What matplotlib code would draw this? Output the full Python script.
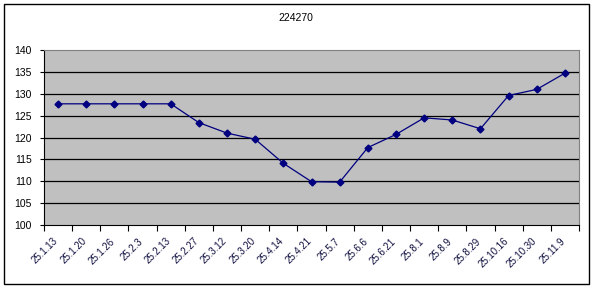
import matplotlib
matplotlib.use("Agg")
import matplotlib.pyplot as plt
from matplotlib.patches import Rectangle
from matplotlib.transforms import ScaledTranslation

title = "224270"
dates = ["25.1.13", "25.1.20", "25.1.26", "25.2.3", "25.2.13", "25.2.27",
         "25.3.12", "25.3.20", "25.4.14", "25.4.21", "25.5.7", "25.6.6",
         "25.6.21", "25.8.1", "25.8.9", "25.8.29", "25.10.16", "25.10.30",
         "25.11.9"]
values = [127.7, 127.7, 127.7, 127.7, 127.7, 123.4, 121.0, 119.6, 114.1,
          109.9, 109.8, 117.7, 120.7, 124.5, 124.0, 122.0, 129.6, 131.0,
          134.7]
y_ticks = [100, 105, 110, 115, 120, 125, 130, 135, 140]

plt.rcParams["font.family"] = ["Liberation Sans", "DejaVu Sans"]

fig = plt.figure(figsize=(5.92, 2.88), dpi=100)
fig.patch.set_facecolor("white")
# outer chart frame
fig.patches.append(Rectangle((4 / 592, 4 / 288), 585 / 592, 280 / 288,
                             transform=fig.transFigure, fill=False,
                             edgecolor="black", linewidth=1.0))

ax = fig.add_axes([44 / 592, 1 - 225 / 288, 535 / 592, 175 / 288])
ax.set_facecolor("#C0C0C0")
for side in ["top", "right"]:
    ax.spines[side].set_color("#808080")
for side in ["left", "bottom"]:
    ax.spines[side].set_color("black")

x = list(range(len(dates)))
ax.plot(x, values, color="#000080", linewidth=0.9, marker="D",
        markersize=3.5, zorder=3)

ax.set_xlim(-0.5, len(dates) - 0.5)
ax.set_ylim(100, 140)
ax.set_yticks(y_ticks)
ax.set_yticklabels([str(v) for v in y_ticks], fontsize=7.5)
for v in y_ticks[1:-1]:
    ax.axhline(v, color="black", linewidth=0.9, zorder=1)

ax.set_xticks([i - 0.5 for i in range(len(dates) + 1)], minor=False)
ax.set_xticklabels([])
ax.set_xticks(x, minor=True)
ax.set_xticklabels(dates, minor=True, rotation=45, ha="right",
                   rotation_mode="anchor", fontsize=7, color="#101040")
ax.tick_params(axis="x", which="major", direction="out", length=4, width=0.8)
ax.tick_params(axis="x", which="minor", length=0, pad=8)
ax.tick_params(axis="y", direction="out", length=3, width=0.8, pad=6)

shift = ScaledTranslation(-5 / 100, 0, fig.dpi_scale_trans)
for lbl in ax.get_xticklabels(minor=True):
    lbl.set_transform(lbl.get_transform() + shift)

fig.text(296 / 592, 1 - 18 / 288, title, ha="center", va="center",
         fontsize=7.5)

fig.savefig("out.png", dpi=100)
